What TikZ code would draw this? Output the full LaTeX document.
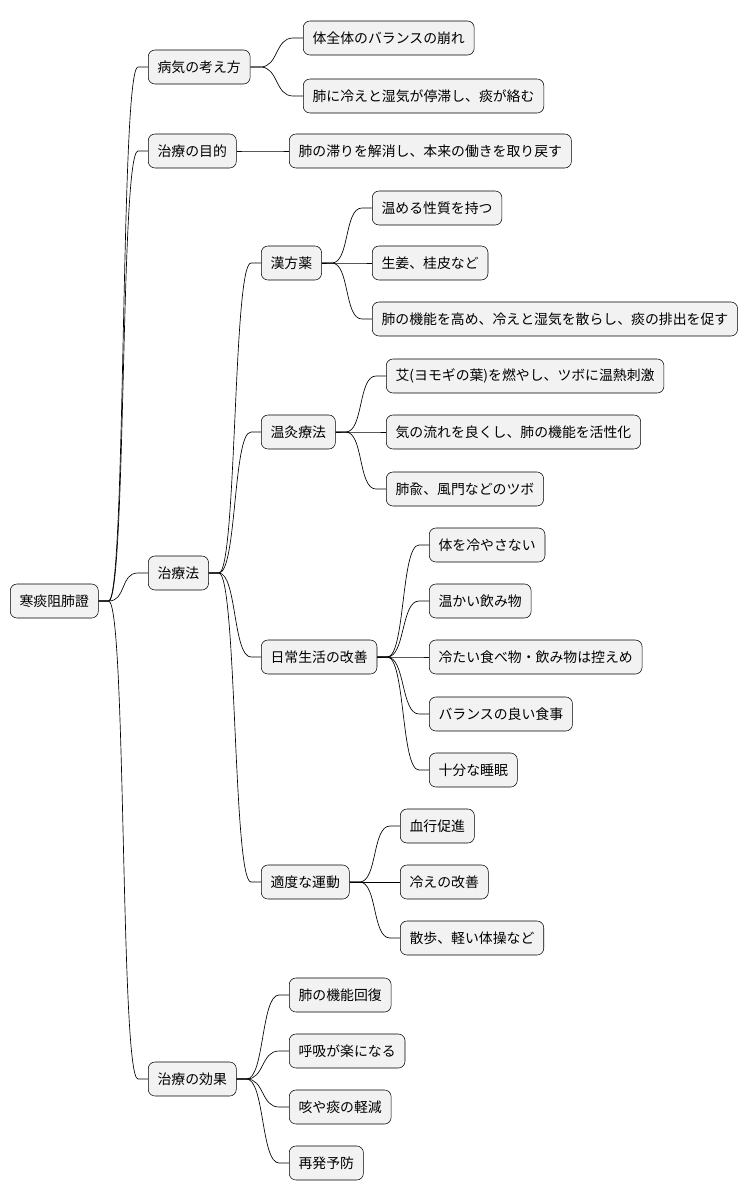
\documentclass[tikz,border=0pt]{standalone}
\usepackage{fontspec}
\setmainfont{Noto Sans CJK JP}
\begin{document}
\begin{tikzpicture}[x=0.75pt,y=-0.75pt,
    topic/.style={draw, fill=gray!10, rounded corners=5pt, anchor=west,
                  minimum height=25.5pt, inner xsep=7pt, font=\fontsize{10.4}{12}\selectfont},
    branch/.style={line width=0.5pt}]
        % Page size
        \useasboundingbox (0,0) rectangle (754,1203);

        % Root and first level
        \node[topic] (root) at (10,601) {寒痰阻肺證};
        \node[topic] (idea) at (148,67) {病気の考え方};
        \node[topic] (goal) at (148,151) {治療の目的};
        \node[topic] (cure) at (148,573) {治療法};
        \node[topic] (gain) at (148,1079) {治療の効果};

        % Second level
        \node[topic] (idea1) at (303,38) {体全体のバランスの崩れ};
        \node[topic] (idea2) at (303,96) {肺に冷えと湿気が停滞し、痰が絡む};
        \node[topic] (goal1) at (289,151) {肺の滞りを解消し、本来の働きを取り戻す};
        \node[topic] (herb) at (261,263) {漢方薬};
        \node[topic] (moxa) at (261,432) {温灸療法};
        \node[topic] (life) at (261,657) {日常生活の改善};
        \node[topic] (move) at (261,882) {適度な運動};
        \node[topic] (gain1) at (289,995) {肺の機能回復};
        \node[topic] (gain2) at (289,1051) {呼吸が楽になる};
        \node[topic] (gain3) at (289,1107) {咳や痰の軽減};
        \node[topic] (gain4) at (289,1163) {再発予防};

        % Third level
        \node[topic] (herb1) at (372,208) {温める性質を持つ};
        \node[topic] (herb2) at (372,263) {生姜、桂皮など};
        \node[topic] (herb3) at (372,319) {肺の機能を高め、冷えと湿気を散らし、痰の排出を促す};
        \node[topic] (moxa1) at (386,376) {艾(ヨモギの葉)を燃やし、ツボに温熱刺激};
        \node[topic] (moxa2) at (386,432) {気の流れを良くし、肺の機能を活性化};
        \node[topic] (moxa3) at (386,489) {肺兪、風門などのツボ};
        \node[topic] (life1) at (429,545) {体を冷やさない};
        \node[topic] (life2) at (429,601) {温かい飲み物};
        \node[topic] (life3) at (429,657) {冷たい食べ物・飲み物は控えめ};
        \node[topic] (life4) at (429,714) {バランスの良い食事};
        \node[topic] (life5) at (429,770) {十分な睡眠};
        \node[topic] (move1) at (400,826) {血行促進};
        \node[topic] (move2) at (400,882) {冷えの改善};
        \node[topic] (move3) at (400,938) {散歩、軽い体操など};

        % Connectors
        \foreach \p/\c in {root/idea, root/goal, root/cure, root/gain,
            idea/idea1, idea/idea2, goal/goal1,
            cure/herb, cure/moxa, cure/life, cure/move,
            gain/gain1, gain/gain2, gain/gain3, gain/gain4,
            herb/herb1, herb/herb2, herb/herb3,
            moxa/moxa1, moxa/moxa2, moxa/moxa3,
            life/life1, life/life2, life/life3, life/life4, life/life5,
            move/move1, move/move2, move/move3}
        {
            \draw[branch] (\p.east) -- ++(10,0)
                .. controls +(18,0) and +(-18,0) .. ([xshift=-7.5pt]\c.west) -- (\c.west);
        }
\end{tikzpicture}
\end{document}
